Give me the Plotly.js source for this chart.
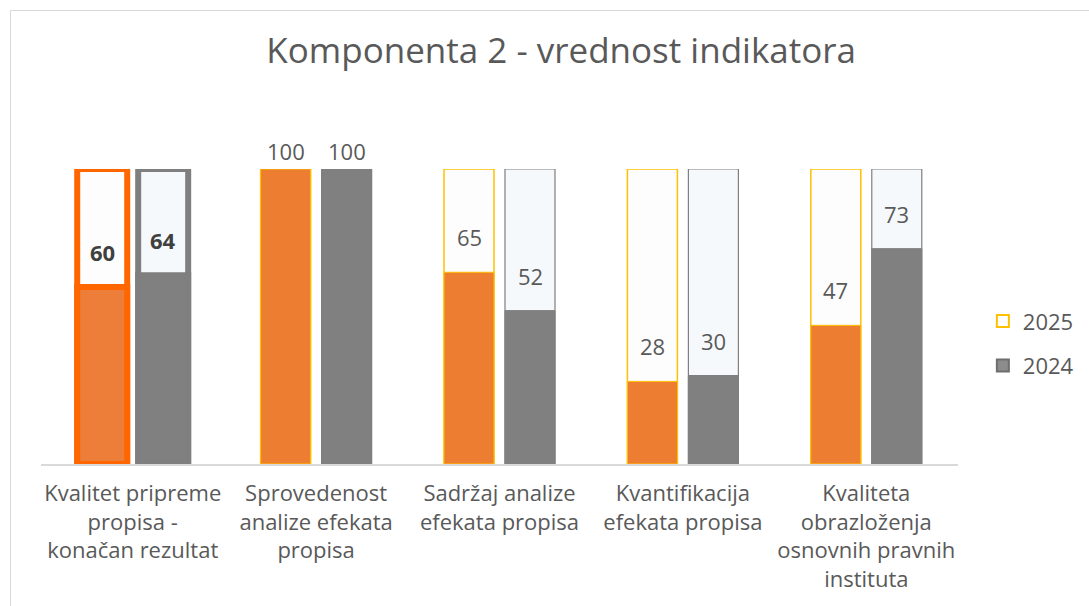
<!DOCTYPE html>
<html>
<head>
<meta charset="utf-8">
<script src="https://cdn.plot.ly/plotly-3.0.1.min.js"></script>
<style>
  html, body { margin: 0; padding: 0; background: #fff; width: 1089px; height: 606px; overflow: hidden; }
  #frame { position: absolute; left: 10px; top: 10px; width: 1079px; height: 596px;
           border-left: 1.5px solid #d9d9d9; border-top: 1.5px solid #d9d9d9; box-sizing: border-box; }
  #chart { position: absolute; left: 1.5px; top: 1.5px; width: 1077px; height: 594px; }
</style>
</head>
<body>
<div id="frame"><div id="chart"></div></div>
<script>
// ---- data ----
const categories = [
  "Kvalitet pripreme<br>propisa -<br>konačan rezultat",
  "Sprovedenost<br>analize efekata<br>propisa",
  "Sadržaj analize<br>efekata propisa",
  "Kvantifikacija<br>efekata propisa",
  "Kvaliteta<br>obrazloženja<br>osnovnih pravnih<br>instituta"
];
const values2025 = [60, 100, 65, 28, 47];
const values2024 = [64, 100, 52, 30, 73];
const fullScale = [100, 100, 100, 100, 100];
const seriesNames = ["2025", "2024"];

// ---- styles ----
const FONT = "'Open Sans', sans-serif";
const TXT = "#595959";
const orange = "#ED7D31", orangeHi = "#EC7E3A", orangeEdge = "#FFC000", orangeHiEdge = "#FF6600";
const gray = "#808080", grayEdge = "#7F7F7F";
const hl = i => i === 0;

function edgeWidths(n, thick, thin) { return Array.from({length: n}, (_, i) => hl(i) ? thick : thin); }
function edgeColors(n, hiC, c) { return Array.from({length: n}, (_, i) => hl(i) ? hiC : c); }

const n = categories.length;
const traces = [
  { type: "bar", x: categories, y: fullScale, name: seriesNames[0], offsetgroup: "a", showlegend: false,
    marker: { color: "#FDFDFD", line: { color: edgeColors(n, orangeHiEdge, orangeEdge), width: edgeWidths(n, 6, 1.5) } },
    cliponaxis: false, hoverinfo: "skip" },
  { type: "bar", x: categories, y: values2025, name: seriesNames[0], offsetgroup: "a", showlegend: false,
    marker: { color: edgeColors(n, orangeHi, orange), line: { color: edgeColors(n, orangeHiEdge, orangeEdge), width: edgeWidths(n, 6, 1) } },
    cliponaxis: false },
  { type: "bar", x: categories, y: fullScale, name: seriesNames[1], offsetgroup: "b", showlegend: false,
    marker: { color: "#F6F9FC", line: { color: grayEdge, width: edgeWidths(n, 6, 1.2) } },
    cliponaxis: false, hoverinfo: "skip" },
  { type: "bar", x: categories, y: values2024, name: seriesNames[1], offsetgroup: "b", showlegend: false,
    marker: { color: gray, line: { color: grayEdge, width: edgeWidths(n, 6, 1) } },
    cliponaxis: false },
  // legend-only entries (no data points drawn)
  { type: "bar", x: [categories[0]], y: [null], name: seriesNames[0], offsetgroup: "a", legendgroup: "g25", showlegend: true,
    marker: { color: "#FFFFFF", line: { color: orangeEdge, width: 2 } }, legendrank: 1 },
  { type: "bar", x: [categories[0]], y: [null], name: seriesNames[1], offsetgroup: "b", legendgroup: "g24", showlegend: true,
    marker: { color: "#8C8C8C", line: { color: "#6E6E6E", width: 2 } }, legendrank: 2 }
];

// data labels
const annotations = [];
[values2025, values2024].forEach((vals, s) => {
  vals.forEach((v, i) => {
    annotations.push({
      x: categories[i], y: v, xref: "x", yref: "y",
      text: hl(i) ? "<b>" + v + "</b>" : String(v),
      showarrow: false, yanchor: "middle",
      xshift: s === 0 ? -30.5 : 30.5,
      yshift: v >= 100 ? 18 : 35,
      font: { family: FONT, size: 22, color: hl(i) ? "#404040" : TXT }
    });
  });
});

const layout = {
  width: 1077, height: 594,
  margin: { l: 28, r: 131, t: 156, b: 143 },
  paper_bgcolor: "#ffffff", plot_bgcolor: "#ffffff",
  title: { text: "Komponenta 2 - vrednost indikatora", xref: "container", yref: "container",
           x: 0.509, y: 0.936, xanchor: "center", yanchor: "middle",
           font: { family: FONT, size: 35, color: TXT } },
  barmode: "group", bargap: 0.335, bargroupgap: 0.18,
  xaxis: { type: "category", showgrid: false, zeroline: false, showline: true, linecolor: "#d9d9d9", linewidth: 1.5,
           ticks: "", ticklabelstandoff: 9, tickfont: { family: FONT, size: 22, color: TXT }, fixedrange: true },
  yaxis: { range: [0, 100], visible: false, fixedrange: true },
  showlegend: true,
  legend: { x: 1.026, xanchor: "left", y: 0.408, yanchor: "middle", traceorder: "grouped", tracegroupgap: 13,
            itemwidth: 30, font: { family: FONT, size: 22, color: TXT }, bgcolor: "rgba(0,0,0,0)" },
  annotations: annotations
};

Plotly.newPlot("chart", traces, layout, { displayModeBar: false, staticPlot: true });
</script>
</body>
</html>
